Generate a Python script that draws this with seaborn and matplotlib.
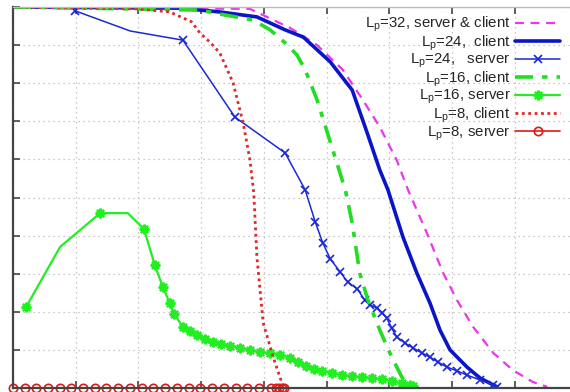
import numpy as np
import pandas as pd
import seaborn as sns
import matplotlib.pyplot as plt

# x / y (no axis labels visible, grid units)
x_p32 = [0, 3.78, 4.42, 4.85, 5.26, 5.58, 5.85, 6.12, 6.30, 6.60, 6.86, 7.08, 7.34, 7.66, 7.97, 8.29, 8.52]
y_p32 = [10, 9.95, 9.45, 9.00, 8.35, 7.56, 6.85, 5.98, 5.20, 4.07, 3.02, 2.31, 1.60, 0.92, 0.47, 0.16, 0.03]

x_p24c = [0, 2.66, 3.30, 3.89, 4.34, 4.63, 5.06, 5.41, 5.65, 5.85, 5.98, 6.22, 6.44, 6.65, 6.81, 6.97, 7.24, 7.45, 7.66, 7.72]
y_p24c = [10, 9.97, 9.87, 9.74, 9.40, 9.21, 8.56, 7.82, 6.69, 5.72, 5.20, 3.96, 3.02, 2.23, 1.52, 1.00, 0.55, 0.26, 0.08, 0.03]

x_p24s = [0.99, 1.87, 2.71, 3.54, 4.34, 4.66, 4.82, 4.94, 5.06, 5.22, 5.34, 5.49, 5.61, 5.69, 5.81, 5.89,
          5.96, 6.04, 6.12, 6.25, 6.38, 6.52, 6.65, 6.78, 6.92, 7.08, 7.24, 7.45, 7.66, 7.72]
y_p24s = [9.90, 9.37, 9.13, 7.11, 6.17, 5.20, 4.36, 3.81, 3.39, 3.04, 2.78, 2.60, 2.31, 2.18, 2.10, 1.97,
          1.84, 1.57, 1.34, 1.18, 1.05, 0.92, 0.81, 0.68, 0.55, 0.45, 0.34, 0.21, 0.08, 0.03]

x_p16c = [0, 2.98, 3.38, 3.83, 4.10, 4.34, 4.53, 4.66, 4.85, 5.10, 5.30, 5.41, 5.53, 5.66, 5.85, 6.01, 6.20, 6.30]
y_p16c = [10, 9.92, 9.79, 9.66, 9.40, 9.06, 8.74, 8.35, 7.56, 6.25, 5.20, 4.33, 3.02, 2.31, 1.52, 0.92, 0.29, 0.03]

x_p16s = [0.21, 0.75, 1.39, 1.83, 2.09, 2.26, 2.39, 2.50, 2.57, 2.71, 2.82, 2.93, 3.06, 3.19, 3.32, 3.46,
          3.62, 3.78, 3.94, 4.10, 4.26, 4.42, 4.55, 4.67, 4.80, 4.93, 5.09, 5.25, 5.41, 5.57, 5.73, 5.89,
          6.04, 6.20, 6.33, 6.38]
y_p16s = [2.13, 3.70, 4.59, 4.59, 4.17, 3.23, 2.65, 2.23, 1.94, 1.60, 1.50, 1.39, 1.29, 1.21, 1.15, 1.10,
          1.05, 1.00, 0.94, 0.92, 0.87, 0.79, 0.68, 0.58, 0.50, 0.45, 0.39, 0.34, 0.31, 0.29, 0.26, 0.24,
          0.18, 0.13, 0.08, 0.05]

x_p8c = [0, 1.98, 2.50, 2.85, 2.98, 3.14, 3.30, 3.51, 3.67, 3.78, 3.84, 3.89, 3.99, 4.15, 4.29, 4.32]
y_p8c = [10, 9.95, 9.87, 9.61, 9.32, 9.08, 8.79, 8.01, 6.96, 5.98, 5.12, 3.44, 1.71, 0.81, 0.13, 0]

x_p8s = [0, 0.19, 0.37, 0.56, 0.75, 0.93, 1.12, 1.31, 1.49, 1.68, 1.87, 2.05, 2.24, 2.43, 2.61, 2.80,
         2.99, 3.17, 3.36, 3.55, 3.73, 3.92, 4.11, 4.20, 4.25, 4.29, 4.32]
y_p8s = [0] * len(x_p8s)

labels = ['L$_\\mathrm{p}$=32, server & client',
          'L$_\\mathrm{p}$=24,  client',
          'L$_\\mathrm{p}$=24,   server',
          'L$_\\mathrm{p}$=16, client',
          'L$_\\mathrm{p}$=16, server',
          'L$_\\mathrm{p}$=8, client',
          'L$_\\mathrm{p}$=8, server']

sns.set_style('white')
plt.rcParams['font.family'] = ['Liberation Sans', 'DejaVu Sans']
plt.rcParams['mathtext.fontset'] = 'custom'
plt.rcParams['mathtext.rm'] = 'Liberation Sans'
plt.rcParams['mathtext.it'] = 'Liberation Sans'

fig = plt.figure(figsize=(5.7, 3.92), dpi=100)
ax = fig.add_axes([13 / 570, 4 / 392, 1 - 13 / 570, 381 / 392])

# the first bends of the server curves carry no marker in the original
skip24 = [i for i in range(len(x_p24s)) if i != 1]
skip16 = [i for i in range(len(x_p16s)) if i not in (1, 3)]

kw = dict(ax=ax, sort=False, estimator=None)
sns.lineplot(x=x_p32, y=y_p32, color='#ee33ee', lw=1.6, linestyle=(0, (4, 3)), label=labels[0], **kw)
sns.lineplot(x=x_p24c, y=y_p24c, color='#0a14c8', lw=2.6, label=labels[1], **kw)
sns.lineplot(x=x_p24s, y=y_p24s, color='#1a28d8', lw=1.1, marker='x', ms=6, mew=1.2, mec='#1a28d8',
             markevery=skip24, label=labels[2], **kw)
sns.lineplot(x=x_p16c, y=y_p16c, color='#22dd22', lw=2.6, linestyle=(0, (5, 2.5, 1.5, 2.5)), label=labels[3], **kw)
sns.lineplot(x=x_p16s, y=y_p16s, color='#22ee22', lw=1.6, marker=(8, 2, 0), ms=7, mew=1.6, mec='#22ee22',
             markevery=skip16, label=labels[4], **kw)
sns.lineplot(x=x_p8c, y=y_p8c, color='#e02828', lw=2.0, linestyle=(0, (1, 1.3)), label=labels[5], **kw)
sns.lineplot(x=x_p8s, y=y_p8s, color='#e01818', lw=1.2, marker='o', ms=6, mfc='none', mew=1.2, mec='#e01818',
             label=labels[6], **kw)
ax.get_lines()[-1].set_clip_on(False)

ax.set_xlim(0, 557 / 62.7)
ax.set_ylim(0, 10)
ax.set_xticks(np.arange(0, 9))
ax.set_yticks(np.arange(0, 11))
ax.set_xticklabels([])
ax.set_yticklabels([])
ax.grid(True, color='#b8b8b8', linestyle=(0, (1, 3)), lw=0.9)
ax.tick_params(direction='in', length=5, width=1.2, color='#444444', top=True, bottom=True, left=True, right=False)
for s in ['left', 'bottom']:
    ax.spines[s].set_color('#444444')
    ax.spines[s].set_linewidth(1.6)
ax.spines['top'].set_color('#bbbbbb')
ax.spines['top'].set_linewidth(1.0)
ax.spines['right'].set_visible(False)

leg = ax.legend(loc='upper right', bbox_to_anchor=(560 / 570, (392 - 15) / 392), bbox_transform=fig.transFigure,
                frameon=False, markerfirst=False, fontsize=10.8, handlelength=3.0, handletextpad=0.3,
                labelspacing=-0.05, borderpad=0, borderaxespad=0)
# the blue server handle in the original legend carries the marker
fig.savefig('out.png', dpi=100)
